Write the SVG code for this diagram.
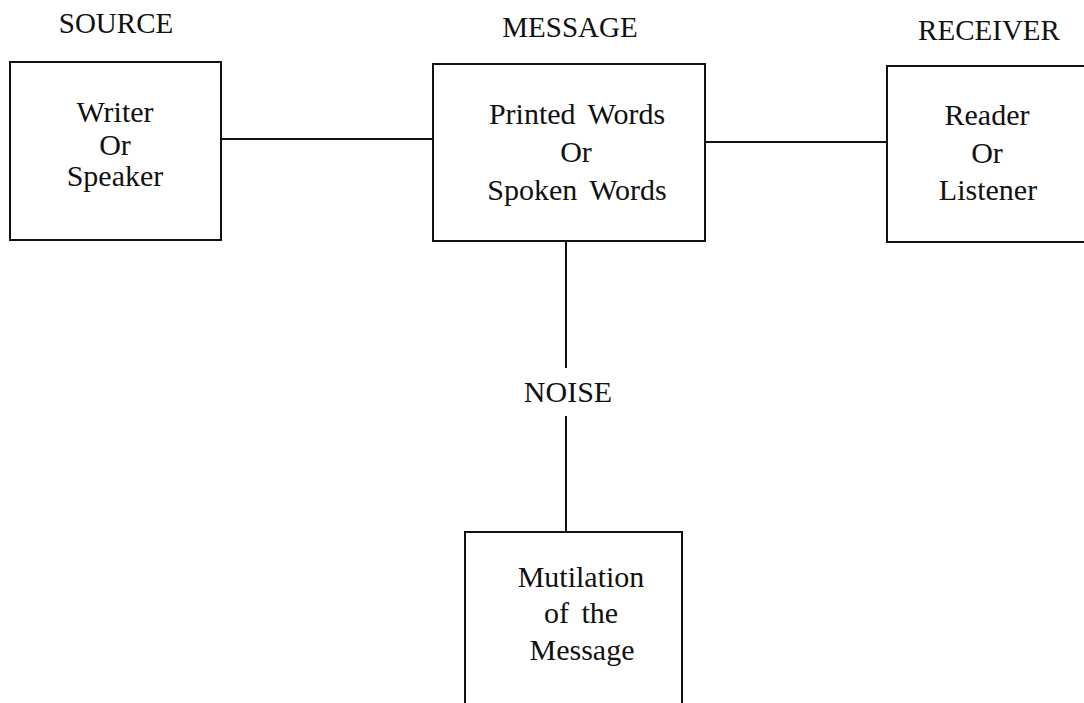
<svg xmlns="http://www.w3.org/2000/svg" width="1084" height="703" viewBox="0 0 1084 703">
<style>
.box{fill:none;stroke:#111;stroke-width:2}
.ln{stroke:#111;stroke-width:2;fill:none}
.hd{font-family:"Liberation Serif",serif;font-size:29px;fill:#111;text-anchor:middle}
.tx{font-family:"Liberation Serif",serif;font-size:30px;fill:#111;text-anchor:middle;word-spacing:5px}
</style>
<rect width="1084" height="703" fill="#fff"/>
<g id="connectors">
<line class="ln" x1="221" y1="139" x2="433" y2="139"/>
<line class="ln" x1="705" y1="142" x2="887" y2="142"/>
<line class="ln" x1="566" y1="241" x2="566" y2="368"/>
<line class="ln" x1="566" y1="416" x2="566" y2="532"/>
</g>
<g id="source">
<text class="hd" x="116" y="33">SOURCE</text>
<rect class="box" x="10" y="62" width="211" height="178"/>
<text class="tx" x="115" y="122">Writer</text>
<text class="tx" x="115" y="155">Or</text>
<text class="tx" x="115" y="186">Speaker</text>
</g>
<g id="message">
<text class="hd" x="570" y="37">MESSAGE</text>
<rect class="box" x="433" y="64" width="272" height="177"/>
<text class="tx" x="577" y="124">Printed Words</text>
<text class="tx" x="576" y="162">Or</text>
<text class="tx" x="577" y="200">Spoken Words</text>
</g>
<g id="receiver">
<text class="hd" x="989" y="40">RECEIVER</text>
<rect class="box" x="887" y="66" width="210" height="176"/>
<text class="tx" x="987" y="125">Reader</text>
<text class="tx" x="987" y="163">Or</text>
<text class="tx" x="988" y="200">Listener</text>
</g>
<g id="noise">
<text class="tx" x="568" y="402">NOISE</text>
</g>
<g id="mutilation">
<rect class="box" x="465" y="532" width="217" height="190"/>
<text class="tx" x="581" y="587">Mutilation</text>
<text class="tx" x="581" y="623">of the</text>
<text class="tx" x="582" y="660">Message</text>
</g>
</svg>
